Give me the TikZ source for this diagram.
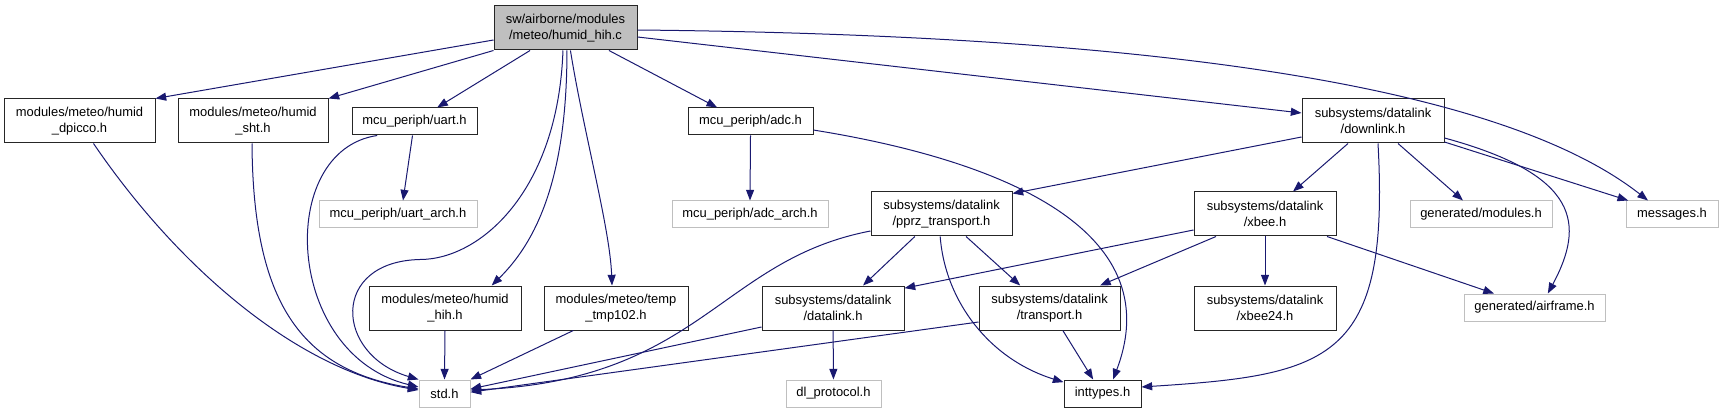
\documentclass[tikz,border=0pt]{standalone}
\usepackage{fontspec}
\setmainfont{Liberation Sans}
\usepackage{tikz}
\usetikzlibrary{arrows.meta}
\definecolor{edgeblue}{HTML}{191970}
\definecolor{boxgray}{HTML}{BFBFBF}

\begin{document}
\begin{tikzpicture}[x=0.75pt,y=-0.75pt,font=\fontsize{9.7}{11.6}\selectfont,
 b/.style={draw,inner sep=0pt,align=center,line width=0.75pt,minimum height=20.25pt,minimum width=#1*0.75pt},
 hdr/.style={b=#1,draw=black!85}, ext/.style={b=#1,draw=boxgray},
 cur/.style={hdr=#1,fill=boxgray}, tall/.style={minimum height=33pt},
 ar/.style={-{Triangle[length=8pt,width=6pt]},draw=edgeblue,line width=0.75pt}]
\useasboundingbox (0,0) rectangle (1723,413);
\node[cur=143,tall] (root) at (565.5,28) {sw/airborne/modules\\/meteo/humid\_hih.c};
\node[hdr=151,tall] (dpicco) at (79.5,121) {modules/meteo/humid\\\_dpicco.h};
\node[hdr=150,tall] (sht) at (253,121) {modules/meteo/humid\\\_sht.h};
\node[hdr=125] (uart) at (414.5,121.5) {mcu\_periph/uart.h};
\node[hdr=125] (adc) at (750.5,121.5) {mcu\_periph/adc.h};
\node[hdr=142,tall] (downlink) at (1373,121) {subsystems/datalink\\/downlink.h};
\node[ext=158] (uartarch) at (398,214.5) {mcu\_periph/uart\_arch.h};
\node[ext=156] (adcarch) at (750,214.5) {mcu\_periph/adc\_arch.h};
\node[hdr=141,tall] (pprz) at (941.5,214) {subsystems/datalink\\/pprz\_transport.h};
\node[hdr=142,tall] (xbee) at (1265,214) {subsystems/datalink\\/xbee.h};
\node[ext=142] (genmod) at (1481,214.5) {generated/modules.h};
\node[ext=92] (messages) at (1672,214.5) {messages.h};
\node[hdr=152,tall] (hih) at (445,308) {modules/meteo/humid\\\_hih.h};
\node[hdr=144,tall] (tmp) at (616,308) {modules/meteo/temp\\\_tmp102.h};
\node[hdr=142,tall] (datalink) at (833,308) {subsystems/datalink\\/datalink.h};
\node[hdr=141,tall] (transport) at (1049.5,308) {subsystems/datalink\\/transport.h};
\node[hdr=142,tall] (xbee24) at (1265,308) {subsystems/datalink\\/xbee24.h};
\node[ext=141] (airframe) at (1534.5,307.5) {generated/airframe.h};
\node[ext=51] (std) at (444.5,393.5) {std.h};
\node[ext=95] (dlproto) at (833.5,393.5) {dl\_protocol.h};
\node[hdr=77] (inttypes) at (1102.5,393.5) {inttypes.h};
% from the source file
\draw[ar] ([yshift=-9pt]root.west) -- (dpicco.north east);
\draw[ar] (root.south west) -- (sht.north east);
\draw[ar] ([xshift=-26.6pt]root.south) -- ([xshift=17pt]uart.north);
\draw[ar] ([xshift=-1.9pt]root.south) .. controls +(-5,141) and +(60,0) .. ++(-143,209) .. controls +(-90,2) and +(-84,-25) .. (std.north west);
\draw[ar] ([xshift=1.1pt]root.south) .. controls +(0,121) and +(48,-47) .. ([xshift=35pt]hih.north);
\draw[ar] ([xshift=3.7pt]root.south) .. controls +(13,81) and +(-2,-57) .. ([xshift=-3pt]tmp.north);
\draw[ar] ([xshift=32.6pt]root.south) -- ([xshift=-25pt]adc.north);
\draw[ar] ([yshift=-6.75pt]root.east) -- ([yshift=6pt]downlink.west);
\draw[ar] ([yshift=-1.5pt]root.east) .. controls +(513,5) and +(-148,-116) .. ([xshift=-18pt]messages.north);
% second level
\draw[ar] ([xshift=10.5pt]dpicco.south) .. controls +(86.5,127) and +(-119,-20) .. ([yshift=2.6pt]std.west);
\draw[ar] ([xshift=-0.75pt]sht.south) .. controls +(1,157) and +(-119,-19) .. ([yshift=3.4pt]std.west);
\draw[ar] ([xshift=-1.5pt]uart.south) -- ([xshift=3.75pt]uartarch.north);
\draw[ar] ([xshift=-28pt]uart.south) .. controls +(-102,15) and +(-134,-32) .. ([yshift=4.9pt]std.west);
\draw[ar] (adc.south) -- (adcarch.north);
\draw[ar] ([yshift=-6.4pt]adc.east) .. controls +(187,30) and +(57,-150) .. ([xshift=7.9pt]inttypes.north);
\draw[ar] (hih.south) -- (std.north);
\draw[ar] ([xshift=-32pt]tmp.south) -- (std.north east);
\draw[ar] ([yshift=-12pt]downlink.west) -- ([yshift=-1.5pt]pprz.north east);
\draw[ar] ([xshift=-18.75pt]downlink.south) -- ([xshift=21pt]xbee.north);
\draw[ar] ([xshift=3.75pt]downlink.south) .. controls +(12,217) and +(189,-12) .. ([yshift=4.9pt]inttypes.east);
\draw[ar] ([xshift=18.75pt]downlink.south) -- ([xshift=-13.5pt]genmod.north);
\draw[ar] ([yshift=-12.75pt]downlink.east) .. controls +(136,37) and +(37,-69) .. ([xshift=10pt]airframe.north);
\draw[ar] ([yshift=-15.75pt]downlink.east) -- ([xshift=2pt]messages.north west);
% datalink layer
\draw[ar] ([xshift=-20pt]pprz.south) -- ([xshift=22.5pt]datalink.north);
\draw[ar] ([xshift=18.4pt]pprz.south) -- ([xshift=-22pt]transport.north);
\draw[ar] ([yshift=-12.75pt]pprz.west) .. controls +(-151,29) and +(230,-10) .. ([yshift=2.6pt]std.east);
\draw[ar] ([xshift=-1pt]pprz.south) .. controls +(5,65) and +(-74,-23) .. ([yshift=-2pt]inttypes.north west);
\draw[ar] ([yshift=-12pt]xbee.west) -- ([yshift=-2pt]datalink.north east);
\draw[ar] ([xshift=-36.75pt]xbee.south) -- ([xshift=37.9pt]transport.north);
\draw[ar] (xbee) -- (xbee24);
\draw[ar] ([xshift=46.5pt]xbee.south) -- ([xshift=-30.4pt]airframe.north);
\draw[ar] ([yshift=-14.25pt]datalink.west) -- ([yshift=3.4pt]std.east);
\draw[ar] (datalink) -- (dlproto);
\draw[ar] ([yshift=-10.5pt]transport.west) -- ([yshift=1pt]std.east);
\draw[ar] ([xshift=10pt]transport.south) -- ([xshift=-7pt]inttypes.north);
\end{tikzpicture}
\end{document}
